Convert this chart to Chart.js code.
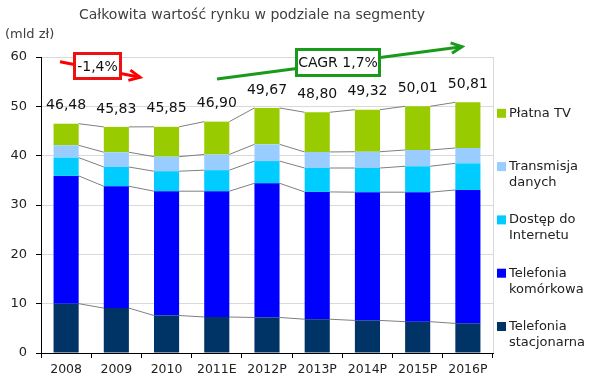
<!DOCTYPE html>
<html>
<head>
<meta charset="utf-8">
<script src="https://cdn.jsdelivr.net/npm/chart.js@4/dist/chart.umd.min.js"></script>
<style>
  html, body { margin: 0; padding: 0; background: #fff; }
</style>
</head>
<body>
<canvas id="chart" width="590" height="383"></canvas>
<script>
const years = ["2008", "2009", "2010", "2011E", "2012P", "2013P", "2014P", "2015P", "2016P"];
const totals = [46.48, 45.83, 45.85, 46.90, 49.67, 48.80, 49.32, 50.01, 50.81];
const stacjonarna = [10.0, 9.1, 7.6, 7.3, 7.2, 6.85, 6.6, 6.35, 6.0];
const komorkowa = [25.9, 24.7, 25.2, 25.5, 27.2, 25.8, 26.0, 26.25, 27.05];
const internet = [3.7, 3.9, 4.05, 4.26, 4.5, 4.85, 4.9, 5.25, 5.4];
const transmisja = [2.5, 3.0, 2.95, 3.18, 3.4, 3.25, 3.3, 3.3, 3.1];
const platnaTv = [4.38, 5.13, 6.05, 6.66, 7.37, 8.05, 8.52, 8.86, 9.26];
const seriesNames = ["Telefonia stacjonarna", "Telefonia komórkowa", "Dostęp do Internetu", "Transmisja danych", "Płatna TV"];
const legendLines = [["Telefonia", "stacjonarna"], ["Telefonia", "komórkowa"], ["Dostęp do", "Internetu"], ["Transmisja", "danych"], ["Płatna TV"]];
const colors = ["#003366", "#0000ff", "#00ccff", "#99ccff", "#99cc00"];
const yTicks = [0, 10, 20, 30, 40, 50, 60];

const FONT = "'DejaVu Sans', Verdana, sans-serif";

function fmt(v) {
  return v.toFixed(2).replace(".", ",");
}

function arrow(ctx, x1, y1, x2, y2, color) {
  const a = Math.atan2(y2 - y1, x2 - x1);
  ctx.strokeStyle = color;
  ctx.lineWidth = 3;
  ctx.beginPath();
  ctx.moveTo(x1, y1);
  ctx.lineTo(x2, y2);
  ctx.stroke();
  ctx.beginPath();
  ctx.moveTo(x2 - 12 * Math.cos(a - 0.45), y2 - 12 * Math.sin(a - 0.45));
  ctx.lineTo(x2, y2);
  ctx.lineTo(x2 - 12 * Math.cos(a + 0.45), y2 - 12 * Math.sin(a + 0.45));
  ctx.stroke();
}

function labelBox(ctx, x, y, w, h, color, text) {
  ctx.fillStyle = "#fff";
  ctx.fillRect(x, y, w, h);
  ctx.strokeStyle = color;
  ctx.lineWidth = 3;
  ctx.strokeRect(x, y, w, h);
  ctx.fillStyle = "#111";
  ctx.font = "14px " + FONT;
  ctx.textAlign = "center";
  ctx.textBaseline = "middle";
  ctx.fillText(text, x + w / 2, y + h / 2 + 1);
}

const decor = {
  id: "decor",
  beforeDatasetsDraw(chart) {
    const ctx = chart.ctx;
    const y = chart.scales.y;
    ctx.save();
    ctx.strokeStyle = "#7f7f7f";
    ctx.lineWidth = 1;
    const cum = years.map(() => 0);
    chart.data.datasets.forEach((ds, d) => {
      const meta = chart.getDatasetMeta(d);
      ds.data.forEach((v, i) => { cum[i] += v; });
      for (let i = 0; i < years.length - 1; i++) {
        const a = meta.data[i];
        const b = meta.data[i + 1];
        ctx.beginPath();
        ctx.moveTo(a.x + a.width / 2, y.getPixelForValue(cum[i]));
        ctx.lineTo(b.x - b.width / 2, y.getPixelForValue(cum[i + 1]));
        ctx.stroke();
      }
    });
    ctx.restore();
  },
  afterDraw(chart) {
    const ctx = chart.ctx;
    const area = chart.chartArea;
    const y = chart.scales.y;
    ctx.save();

    // plot area right border
    ctx.strokeStyle = "#d9d9d9";
    ctx.lineWidth = 1;
    ctx.beginPath();
    ctx.moveTo(Math.round(area.right) + 0.5, area.top);
    ctx.lineTo(Math.round(area.right) + 0.5, area.bottom);
    ctx.stroke();

    // title + unit
    ctx.fillStyle = "#404040";
    ctx.font = "14px " + FONT;
    ctx.textAlign = "center";
    ctx.textBaseline = "middle";
    ctx.fillText("Całkowita wartość rynku w podziale na segmenty", 252, 15);
    ctx.font = "13px " + FONT;
    ctx.textAlign = "left";
    ctx.fillText("(mld zł)", 5, 35);

    // totals above bars
    const top = chart.getDatasetMeta(chart.data.datasets.length - 1);
    ctx.fillStyle = "#111";
    ctx.font = "14px " + FONT;
    ctx.textAlign = "center";
    totals.forEach((t, i) => {
      ctx.fillText(fmt(t), top.data[i].x, y.getPixelForValue(t) - 18);
    });

    // legend, top entry = last series
    ctx.font = "13px " + FONT;
    ctx.textAlign = "left";
    for (let k = 0; k < seriesNames.length; k++) {
      const d = seriesNames.length - 1 - k;
      const cy = 113.3 + k * 53.3;
      ctx.fillStyle = colors[d];
      ctx.fillRect(497, cy - 4.5, 9, 9);
      ctx.fillStyle = "#222";
      legendLines[d].forEach((line, j) => {
        ctx.fillText(line, 509, cy + j * 16);
      });
    }

    // trend annotations
    arrow(ctx, 60, 61.7, 140, 77.3, "#ff0000");
    labelBox(ctx, 74.5, 53.5, 46, 25, "#ee1111", "-1,4%");
    arrow(ctx, 217, 79, 462, 46.7, "#1a9a1a");
    labelBox(ctx, 296.5, 49.5, 83, 26, "#1a9a1a", "CAGR 1,7%");

    ctx.restore();
  }
};

const datasets = [stacjonarna, komorkowa, internet, transmisja, platnaTv].map((data, i) => ({
  label: seriesNames[i],
  data,
  backgroundColor: colors[i],
  borderWidth: 0,
  barPercentage: 0.5,
  categoryPercentage: 1.0
}));

new Chart(document.getElementById("chart"), {
  type: "bar",
  data: { labels: years, datasets },
  options: {
    responsive: false,
    devicePixelRatio: 1,
    animation: false,
    layout: { padding: { top: 57, right: 97, bottom: 0, left: 0 } },
    plugins: {
      legend: { display: false },
      title: { display: false },
      tooltip: { enabled: false }
    },
    scales: {
      x: {
        stacked: true,
        grid: { offset: true, drawOnChartArea: false, tickLength: 5, tickColor: "#000" },
        border: { color: "#000", width: 1 },
        ticks: { color: "#222", font: { family: FONT, size: 12.5 }, padding: 4, maxRotation: 0 },
        afterFit(s) { s.height = 30; }
      },
      y: {
        stacked: true,
        min: 0,
        max: 60,
        afterBuildTicks(s) { s.ticks = yTicks.map((v) => ({ value: v })); },
        grid: { color: "#d9d9d9", tickColor: "#000", tickLength: 5 },
        border: { color: "#000", width: 1 },
        ticks: { color: "#222", font: { family: FONT, size: 13 }, padding: 9 },
        afterFit(s) { s.width = 41; }
      }
    }
  },
  plugins: [decor]
});
</script>
</body>
</html>
